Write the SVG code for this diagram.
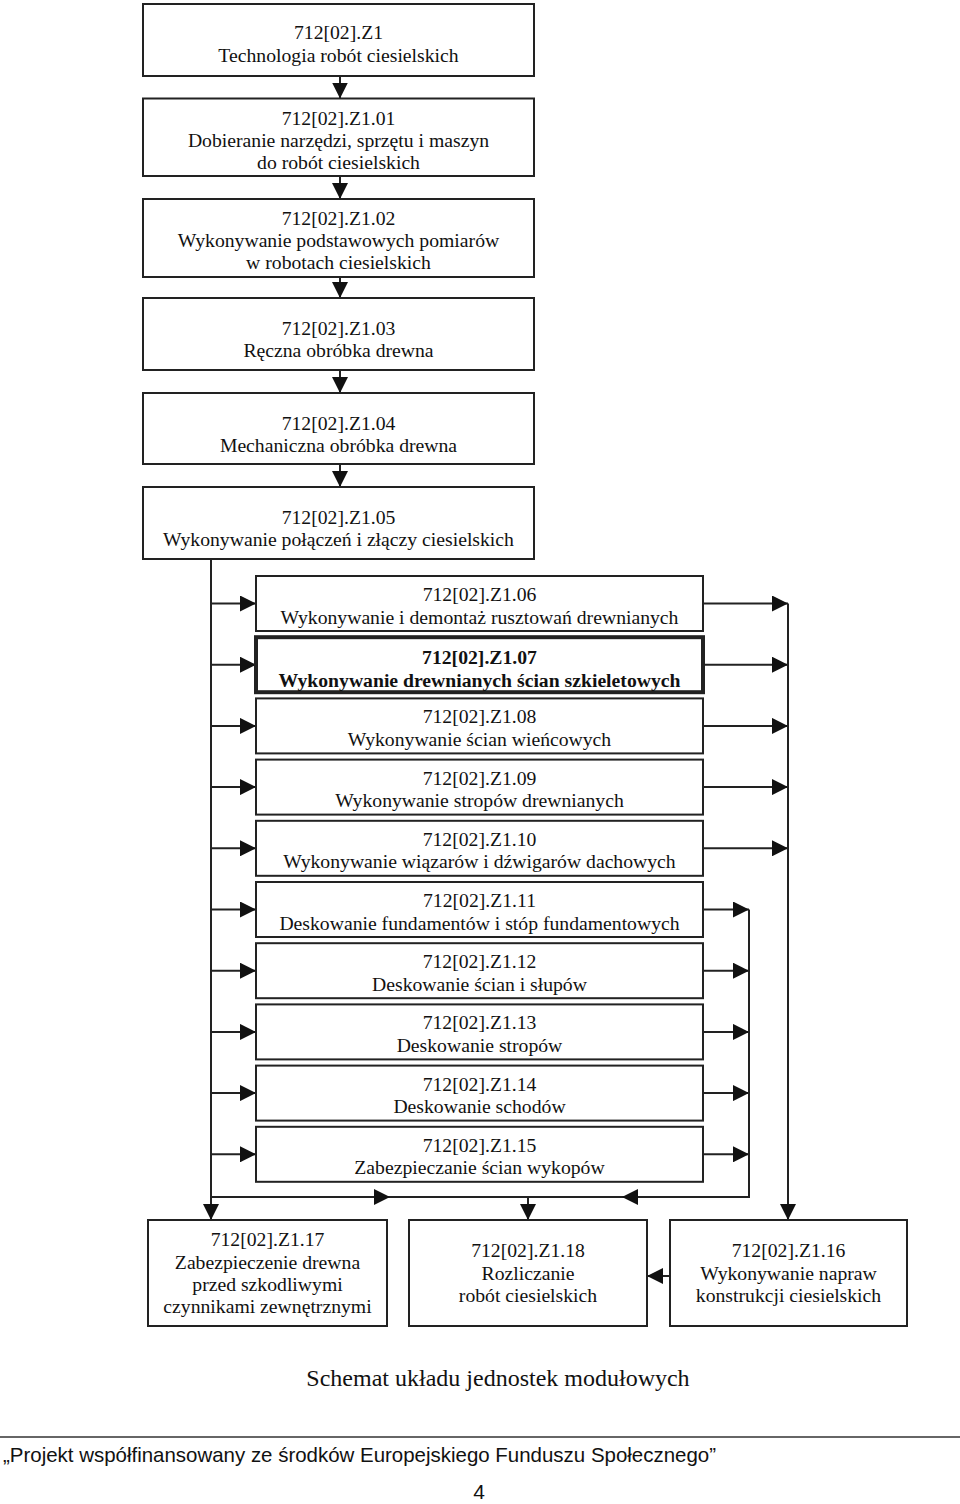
<svg xmlns="http://www.w3.org/2000/svg" width="960" height="1504" viewBox="0 0 960 1504">
<defs>
<style>
.box{fill:#fff;stroke:#222;stroke-width:2}
.thick{stroke-width:4}
.t{font-family:"Liberation Serif","Times New Roman",serif;font-size:19.7px;fill:#111;text-anchor:middle}
.b{font-weight:bold}
.c{fill:none;stroke:#222;stroke-width:2}
.a{marker-end:url(#ah)}
.foot{font-family:"Liberation Sans",Arial,sans-serif;fill:#111}
</style>
<marker id="ah" markerUnits="userSpaceOnUse" markerWidth="16" markerHeight="16" viewBox="0 0 15 15" refX="15" refY="7.5" orient="auto">
<path d="M0,0 L15,7.5 L0,15 z" fill="#111"/>
</marker>
</defs>
<rect width="960" height="1504" fill="#fff"/>

<g id="connectors">
<path class="c a" d="M340,76 L340,98.5"/>
<path class="c a" d="M340,176 L340,199"/>
<path class="c a" d="M340,277 L340,298"/>
<path class="c a" d="M340,370 L340,393"/>
<path class="c a" d="M340,464 L340,487"/>
<path class="c a" d="M211,559 L211,1220"/>
<path class="c a" d="M211,603.5 L256,603.5"/>
<path class="c a" d="M211,664.7 L256,664.7"/>
<path class="c a" d="M211,725.9 L256,725.9"/>
<path class="c a" d="M211,787.1 L256,787.1"/>
<path class="c a" d="M211,848.3 L256,848.3"/>
<path class="c a" d="M211,909.5 L256,909.5"/>
<path class="c a" d="M211,970.7 L256,970.7"/>
<path class="c a" d="M211,1031.9 L256,1031.9"/>
<path class="c a" d="M211,1093.1 L256,1093.1"/>
<path class="c a" d="M211,1154.3 L256,1154.3"/>
<path class="c a" d="M703,603.5 L788,603.5"/>
<path class="c a" d="M703,664.7 L788,664.7"/>
<path class="c a" d="M703,725.9 L788,725.9"/>
<path class="c a" d="M703,787.1 L788,787.1"/>
<path class="c a" d="M703,848.3 L788,848.3"/>
<path class="c a" d="M788,603.5 L788,1220"/>
<path class="c a" d="M703,909.5 L749,909.5"/>
<path class="c a" d="M703,970.7 L749,970.7"/>
<path class="c a" d="M703,1031.9 L749,1031.9"/>
<path class="c a" d="M703,1093.1 L749,1093.1"/>
<path class="c a" d="M703,1154.3 L749,1154.3"/>
<path class="c a" d="M749,909.5 L749,1197 L622,1197"/>
<path class="c a" d="M211,1197 L390,1197"/>
<path class="c" d="M390,1197 L622,1197"/>
<path class="c a" d="M528,1197 L528,1220"/>
<path class="c a" d="M670,1276 L647,1276"/>
</g>

<g id="n_z1">
<rect class="box" x="143" y="4" width="391" height="72"/>
<text class="t" x="338.5" y="39">712[02].Z1</text>
<text class="t" x="338.5" y="62">Technologia robót ciesielskich</text>
</g>
<g id="n_01">
<rect class="box" x="143" y="98.5" width="391" height="77.5"/>
<text class="t" x="338.5" y="124.5">712[02].Z1.01</text>
<text class="t" x="338.5" y="147">Dobieranie narzędzi, sprzętu i maszyn</text>
<text class="t" x="338.5" y="168.5">do robót ciesielskich</text>
</g>
<g id="n_02">
<rect class="box" x="143" y="199" width="391" height="78"/>
<text class="t" x="338.5" y="224.5">712[02].Z1.02</text>
<text class="t" x="338.5" y="247">Wykonywanie podstawowych pomiarów</text>
<text class="t" x="338.5" y="269">w robotach ciesielskich</text>
</g>
<g id="n_03">
<rect class="box" x="143" y="298" width="391" height="72"/>
<text class="t" x="338.5" y="335">712[02].Z1.03</text>
<text class="t" x="338.5" y="357">Ręczna obróbka drewna</text>
</g>
<g id="n_04">
<rect class="box" x="143" y="393" width="391" height="71"/>
<text class="t" x="338.5" y="429.5">712[02].Z1.04</text>
<text class="t" x="338.5" y="452">Mechaniczna obróbka drewna</text>
</g>
<g id="n_05">
<rect class="box" x="143" y="487" width="391" height="72"/>
<text class="t" x="338.5" y="523.5">712[02].Z1.05</text>
<text class="t" x="338.5" y="545.5">Wykonywanie połączeń i złączy ciesielskich</text>
</g>

<g id="n_06">
<rect class="box" x="256" y="576" width="447" height="55"/>
<text class="t" x="479.5" y="601">712[02].Z1.06</text>
<text class="t" x="479.5" y="623.5">Wykonywanie i demontaż rusztowań drewnianych</text>
</g>
<g id="n_07">
<rect class="box thick" x="256" y="637.2" width="447" height="55"/>
<text class="t b" x="479.5" y="664">712[02].Z1.07</text>
<text class="t b" x="479.5" y="686.5">Wykonywanie drewnianych ścian szkieletowych</text>
</g>
<g id="n_08">
<rect class="box" x="256" y="698.4" width="447" height="55"/>
<text class="t" x="479.5" y="723.4">712[02].Z1.08</text>
<text class="t" x="479.5" y="745.9">Wykonywanie ścian wieńcowych</text>
</g>
<g id="n_09">
<rect class="box" x="256" y="759.6" width="447" height="55"/>
<text class="t" x="479.5" y="784.6">712[02].Z1.09</text>
<text class="t" x="479.5" y="807.1">Wykonywanie stropów drewnianych</text>
</g>
<g id="n_10">
<rect class="box" x="256" y="820.8" width="447" height="55"/>
<text class="t" x="479.5" y="845.8">712[02].Z1.10</text>
<text class="t" x="479.5" y="868.3">Wykonywanie wiązarów i dźwigarów dachowych</text>
</g>
<g id="n_11">
<rect class="box" x="256" y="882" width="447" height="55"/>
<text class="t" x="479.5" y="907">712[02].Z1.11</text>
<text class="t" x="479.5" y="929.5">Deskowanie fundamentów i stóp fundamentowych</text>
</g>
<g id="n_12">
<rect class="box" x="256" y="943.2" width="447" height="55"/>
<text class="t" x="479.5" y="968.2">712[02].Z1.12</text>
<text class="t" x="479.5" y="990.7">Deskowanie ścian i słupów</text>
</g>
<g id="n_13">
<rect class="box" x="256" y="1004.4" width="447" height="55"/>
<text class="t" x="479.5" y="1029.4">712[02].Z1.13</text>
<text class="t" x="479.5" y="1051.9">Deskowanie stropów</text>
</g>
<g id="n_14">
<rect class="box" x="256" y="1065.6" width="447" height="55"/>
<text class="t" x="479.5" y="1090.6">712[02].Z1.14</text>
<text class="t" x="479.5" y="1113.1">Deskowanie schodów</text>
</g>
<g id="n_15">
<rect class="box" x="256" y="1126.8" width="447" height="55"/>
<text class="t" x="479.5" y="1151.8">712[02].Z1.15</text>
<text class="t" x="479.5" y="1174.3">Zabezpieczanie ścian wykopów</text>
</g>

<g id="n_17">
<rect class="box" x="148" y="1220" width="239" height="106"/>
<text class="t" x="267.5" y="1246">712[02].Z1.17</text>
<text class="t" x="267.5" y="1268.5">Zabezpieczenie drewna</text>
<text class="t" x="267.5" y="1290.5">przed szkodliwymi</text>
<text class="t" x="267.5" y="1312.5">czynnikami zewnętrznymi</text>
</g>
<g id="n_18">
<rect class="box" x="409" y="1220" width="238" height="106"/>
<text class="t" x="528" y="1257">712[02].Z1.18</text>
<text class="t" x="528" y="1279.5">Rozliczanie</text>
<text class="t" x="528" y="1302">robót ciesielskich</text>
</g>
<g id="n_16">
<rect class="box" x="670" y="1220" width="237" height="106"/>
<text class="t" x="788.5" y="1257">712[02].Z1.16</text>
<text class="t" x="788.5" y="1279.5">Wykonywanie napraw</text>
<text class="t" x="788.5" y="1302">konstrukcji ciesielskich</text>
</g>

<text class="t" x="498" y="1386" style="font-size:24px">Schemat układu jednostek modułowych</text>
<line x1="0" y1="1437" x2="960" y2="1437" stroke="#333" stroke-width="1.5"/>
<text class="foot" x="3" y="1462" font-size="21" textLength="713" lengthAdjust="spacingAndGlyphs">„Projekt współfinansowany ze środków Europejskiego Funduszu Społecznego”</text>
<text class="foot" x="479" y="1499" font-size="21" text-anchor="middle">4</text>
</svg>
